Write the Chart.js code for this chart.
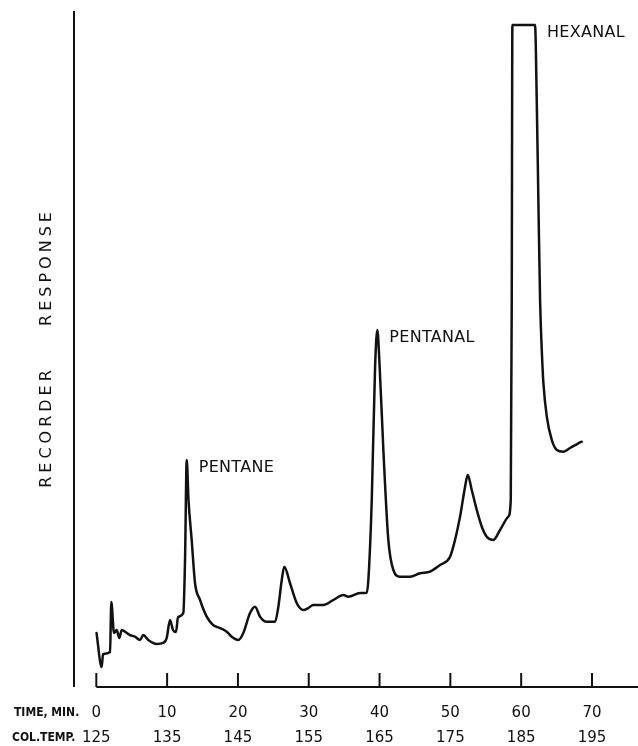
<!DOCTYPE html>
<html><head><meta charset="utf-8">
<script src="https://cdn.jsdelivr.net/npm/chart.js@4/dist/chart.umd.min.js"></script>
<style>html,body{margin:0;padding:0;background:#fff}#wrap{width:638px;height:746px;position:relative}</style>
</head><body><div id="wrap"><canvas id="c" width="638" height="746"></canvas></div>
<script>
// Chromatogram trace: time (min) and recorder response (arbitrary units, 100 = pen limit)
const times = [0.03,0.76,0.95,1.94,2.12,2.50,2.88,3.25,3.59,4.05,4.76,5.47,6.17,6.64,7.34,8.53,9.46,9.94,10.41,10.83,11.26,11.54,12.29,12.53,12.77,13.02,13.47,13.94,14.65,15.59,16.48,17.47,18.42,19.12,20.06,20.76,21.71,22.42,23.12,24.07,25.24,25.71,26.19,26.55,27.35,28.30,29.24,29.94,30.65,32.06,33.47,34.89,35.59,37.25,38.19,38.42,38.90,39.37,39.69,39.97,40.54,41.24,41.95,42.90,44.31,45.72,47.13,48.55,49.96,50.66,51.37,52.08,52.46,53.02,53.73,54.44,55.14,56.07,57.02,58.19,58.53,58.67,58.76,61.96,62.20,62.43,62.67,62.91,63.14,63.62,64.32,65.03,65.96,66.91,68.08,68.56];
const responses = [8.16,3.02,4.98,5.29,12.84,8.16,8.61,7.40,8.61,8.35,7.85,7.60,7.10,7.85,7.10,6.50,6.65,7.40,10.12,8.61,8.31,10.57,11.18,19.18,34.29,28.25,22.21,15.71,13.14,10.62,9.37,8.91,8.35,7.60,7.10,8.16,11.18,12.13,10.62,9.86,9.86,12.13,16.16,18.17,15.71,12.69,11.63,11.93,12.39,12.39,13.14,13.90,13.64,14.20,14.24,16.16,28.25,48.38,53.93,49.40,35.80,22.21,17.67,16.66,16.66,17.18,17.42,18.43,19.68,22.21,25.73,30.26,32.02,29.76,26.74,24.21,22.70,22.21,23.72,25.73,28.25,58.46,100,100,88.67,73.56,58.46,50.91,45.92,40.83,37.31,35.80,35.54,36.10,36.81,37.05];

const tickValues = [0,10,20,30,40,50,60,70];
const timeLabels = ['0','10','20','30','40','50','60','70'];
const tempLabels = ['125','135','145','155','165','175','185','195'];
const rowTitles = ['TIME, MIN.','COL.TEMP.'];
const yTitleWords = ['RECORDER','RESPONSE'];

const peakNames = ['PENTANE','PENTANAL','HEXANAL'];
const peakTimes = [12.77, 39.69, 61.96];
const peakResponses = [34.29, 53.93, 100];

const INK = '#111';
const FONT = '"DejaVu Sans", sans-serif';
const FONT_COND = '"DejaVu Sans Condensed", "DejaVu Sans", sans-serif';

const drawPlugin = {
  id: 'chromAxes',
  afterDraw(chart) {
    const ctx = chart.ctx;
    const xs = chart.scales.x, ys = chart.scales.y, ca = chart.chartArea;
    const y0 = ys.getPixelForValue(0);
    ctx.save();
    ctx.strokeStyle = INK; ctx.fillStyle = INK;
    ctx.lineWidth = 2; ctx.lineCap = 'butt';
    // y axis line
    ctx.beginPath(); ctx.moveTo(ca.left, ca.top); ctx.lineTo(ca.left, y0); ctx.stroke();
    // x axis line from t=0 to right edge
    ctx.beginPath(); ctx.moveTo(xs.getPixelForValue(0), y0); ctx.lineTo(ca.right, y0); ctx.stroke();
    // tick marks (upwards)
    tickValues.forEach(v => {
      const px = xs.getPixelForValue(v);
      ctx.beginPath(); ctx.moveTo(px, y0); ctx.lineTo(px, y0 - 14); ctx.stroke();
    });
    // tick labels, two rows
    ctx.textAlign = 'center'; ctx.textBaseline = 'middle';
    ctx.font = '15px ' + FONT;
    tickValues.forEach((v, i) => {
      const px = xs.getPixelForValue(v);
      ctx.fillText(timeLabels[i], px, y0 + 26);
      ctx.fillText(tempLabels[i], px, y0 + 51);
    });
    // row titles
    ctx.textAlign = 'left';
    ctx.font = 'bold 12px ' + FONT_COND;
    ctx.fillText(rowTitles[0], 14, y0 + 26);
    ctx.fillText(rowTitles[1], 12, y0 + 51);
    // y title (rotated, spaced)
    ctx.font = '16px ' + FONT;
    ctx.letterSpacing = '4px';
    ctx.textAlign = 'center';
    const centers = [429, 269];
    yTitleWords.forEach((w, i) => {
      ctx.save();
      ctx.translate(47, centers[i]);
      ctx.rotate(-Math.PI / 2);
      ctx.fillText(w, 2, 0);
      ctx.restore();
    });
    // peak labels
    ctx.letterSpacing = '0.3px';
    ctx.font = '16px ' + FONT;
    ctx.textAlign = 'left'; ctx.textBaseline = 'alphabetic';
    peakNames.forEach((n, i) => {
      const px = xs.getPixelForValue(peakTimes[i]);
      const py = ys.getPixelForValue(peakResponses[i]);
      ctx.fillText(n, px + 12, py + 12);
    });
    ctx.restore();
  }
};

new Chart(document.getElementById('c'), {
  type: 'line',
  data: {
    datasets: [{
      data: times.map((t, i) => ({x: t, y: responses[i]})),
      borderColor: INK,
      borderWidth: 2.5,
      pointRadius: 0,
      fill: false,
      cubicInterpolationMode: 'monotone',
      borderJoinStyle: 'round',
      borderCapStyle: 'round',
      clip: false
    }]
  },
  options: {
    responsive: false,
    animation: false,
    devicePixelRatio: 1,
    layout: { padding: { left: 74, right: 0, top: 11, bottom: 59 } },
    plugins: { legend: { display: false }, tooltip: { enabled: false } },
    scales: {
      x: { type: 'linear', min: -3.15, max: 76.5, display: false },
      y: { min: 0, max: 102.1, display: false }
    }
  },
  plugins: [drawPlugin]
});
</script></body></html>
